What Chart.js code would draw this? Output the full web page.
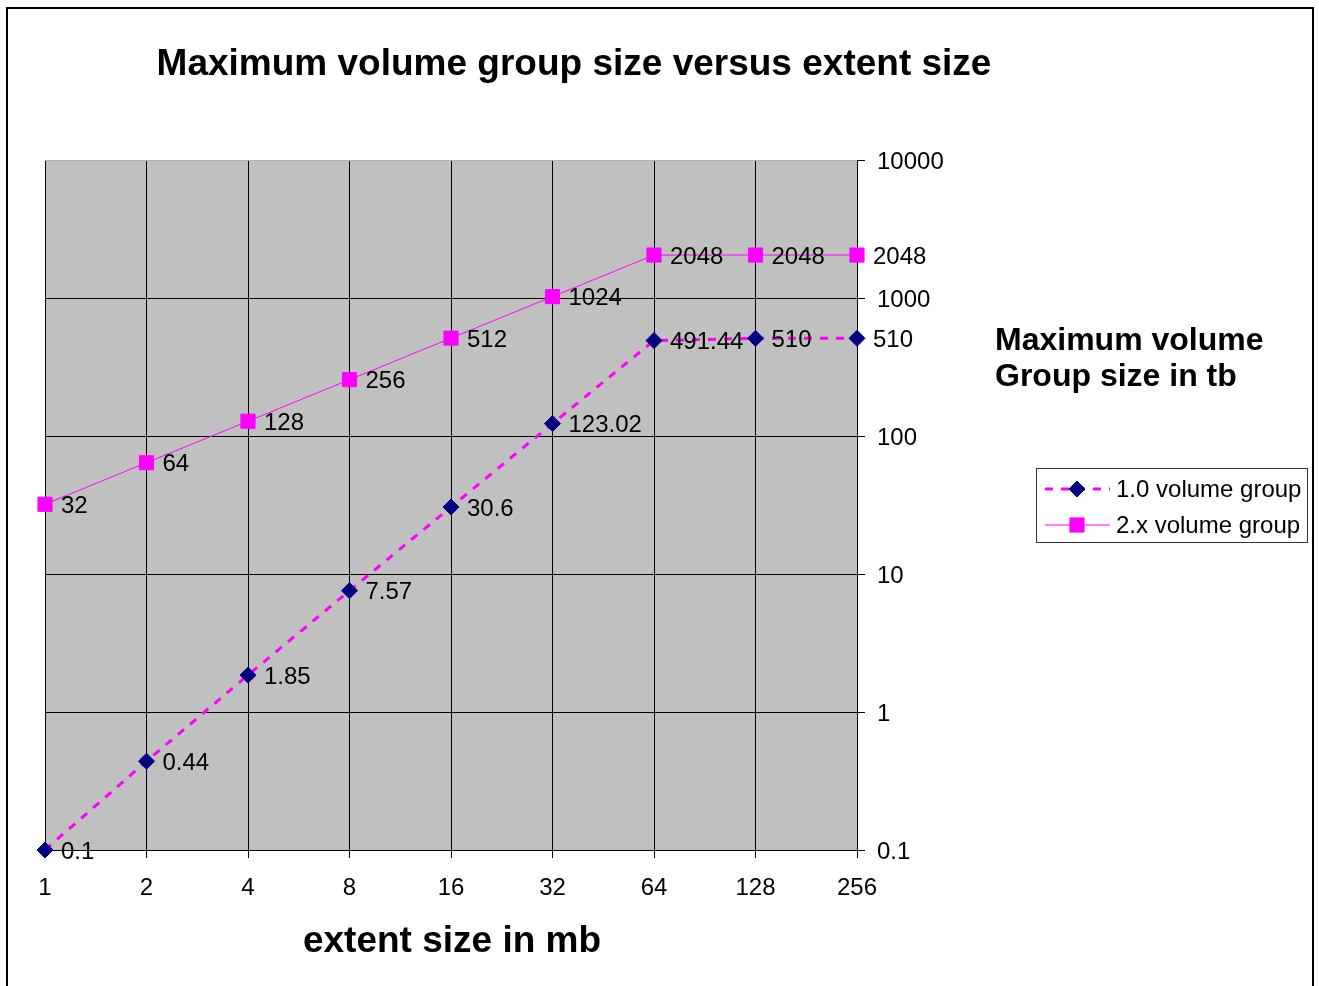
<!DOCTYPE html>
<html>
<head>
<meta charset="utf-8">
<title>Maximum volume group size versus extent size</title>
<script src="https://cdn.jsdelivr.net/npm/chart.js@4/dist/chart.umd.min.js"></script>
<style>
  html, body { margin: 0; padding: 0; background: #fff; }
  #wrap { width: 1319px; height: 986px; }
</style>
</head>
<body>
<div id="wrap"><canvas id="c" width="1319" height="986"></canvas></div>
<script>
// Extent sizes (MB) along the bottom axis
const extentSizes = ['1', '2', '4', '8', '16', '32', '64', '128', '256'];
// Maximum volume group size (TB) for each metadata format
const vg10Sizes = [0.1, 0.44, 1.85, 7.57, 30.6, 123.02, 491.44, 510, 510];
const vg2xSizes = [32, 64, 128, 256, 512, 1024, 2048, 2048, 2048];
// Decade ticks on the logarithmic axis
const sizeTicks = [0.1, 1, 10, 100, 1000, 10000];

const FONT = '"Liberation Sans", Arial, sans-serif';
const MAGENTA = '#FF00FF';
const NAVY = '#000080';

const frameAndText = {
  id: 'frameAndText',
  beforeDraw(chart) {
    const { ctx, chartArea: a } = chart;
    ctx.save();
    ctx.fillStyle = '#ffffff';
    ctx.fillRect(0, 0, chart.width, chart.height);
    ctx.fillStyle = '#C0C0C0';
    ctx.fillRect(a.left, a.top, a.right - a.left, a.bottom - a.top);
    ctx.restore();
  },
  afterDatasetsDraw(chart) {
    const { ctx } = chart;
    ctx.save();
    ctx.font = '24px ' + FONT;
    ctx.fillStyle = '#000';
    ctx.textBaseline = 'middle';
    ctx.textAlign = 'left';
    chart.data.datasets.forEach((ds, i) => {
      const meta = chart.getDatasetMeta(i);
      meta.data.forEach((pt, j) => {
        ctx.fillText(String(ds.data[j]), pt.x + 16, pt.y + 2);
      });
    });
    ctx.restore();
  },
  afterDraw(chart) {
    const { ctx } = chart;
    ctx.save();
    // outer frame
    ctx.strokeStyle = '#000';
    ctx.lineWidth = 2;
    ctx.strokeRect(7, 8, 1306, 1000);

    ctx.fillStyle = '#000';
    ctx.textBaseline = 'middle';
    // title
    ctx.font = 'bold 37px ' + FONT;
    ctx.textAlign = 'center';
    ctx.fillText('Maximum volume group size versus extent size', 574, 65);
    // x axis title
    ctx.fillText('extent size in mb', 452, 942);
    // y axis title
    ctx.font = 'bold 32px ' + FONT;
    ctx.textAlign = 'left';
    ctx.fillText('Maximum volume', 995, 341);
    ctx.fillText('Group size in tb', 995, 377);

    // legend frame
    ctx.strokeStyle = '#333';
    ctx.lineWidth = 1;
    ctx.strokeRect(1036.5, 468.5, 271, 74);
    const rows = [
      { y: 489, ds: chart.data.datasets[0] },
      { y: 525, ds: chart.data.datasets[1] }
    ];
    rows.forEach(r => {
      // line sample
      ctx.save();
      ctx.strokeStyle = r.ds.borderColor;
      ctx.lineWidth = r.ds.borderWidth;
      ctx.setLineDash(r.ds.borderDash || []);
      ctx.beginPath();
      ctx.moveTo(1045, r.y);
      ctx.lineTo(1110, r.y);
      ctx.stroke();
      ctx.restore();
      // marker
      ctx.save();
      ctx.fillStyle = r.ds.pointBackgroundColor;
      ctx.strokeStyle = r.ds.pointBorderColor;
      ctx.lineWidth = 1;
      Chart.helpers.drawPoint(ctx, {
        pointStyle: r.ds.pointStyle,
        radius: r.ds.pointRadius,
        rotation: 0,
        borderWidth: 1
      }, 1077, r.y);
      ctx.restore();
      // label
      ctx.fillStyle = '#000';
      ctx.font = '24px ' + FONT;
      ctx.textAlign = 'left';
      ctx.textBaseline = 'middle';
      ctx.fillText(r.ds.label, 1116, r.y + 1);
    });
    ctx.restore();
  }
};

new Chart(document.getElementById('c'), {
  type: 'line',
  data: {
    labels: extentSizes,
    datasets: [
      {
        label: '1.0 volume group',
        data: vg10Sizes,
        borderColor: MAGENTA,
        borderWidth: 3,
        borderDash: [8, 8],
        pointStyle: 'rectRot',
        pointRadius: 8,
        pointHoverRadius: 8,
        pointBackgroundColor: NAVY,
        pointBorderColor: NAVY,
        pointBorderWidth: 1,
        tension: 0,
        fill: false,
        clip: false
      },
      {
        label: '2.x volume group',
        data: vg2xSizes,
        borderColor: MAGENTA,
        borderWidth: 1,
        pointStyle: 'rect',
        pointRadius: 10,
        pointHoverRadius: 10,
        pointBackgroundColor: MAGENTA,
        pointBorderColor: MAGENTA,
        pointBorderWidth: 1,
        tension: 0,
        fill: false,
        clip: false
      }
    ]
  },
  options: {
    responsive: false,
    animation: false,
    layout: { padding: { left: 45, top: 160, right: 0, bottom: 0 } },
    plugins: {
      legend: { display: false },
      title: { display: false },
      tooltip: { enabled: false }
    },
    scales: {
      x: {
        type: 'category',
        offset: false,
        grid: { color: '#000', lineWidth: 1, tickLength: 8, tickColor: '#000' },
        border: { color: '#000', width: 1 },
        ticks: { color: '#000', font: { family: FONT, size: 24 }, padding: 16, maxRotation: 0, autoSkip: false },
        afterFit(scale) { scale.height = 136; }
      },
      y: {
        type: 'logarithmic',
        position: 'right',
        min: 0.1,
        max: 10000,
        grid: {
          color: ctx => (ctx.tick && ctx.tick.value === 10000) ? '#b0b0b0' : '#000',
          lineWidth: 1,
          tickLength: 8,
          tickColor: '#000'
        },
        border: { color: '#000', width: 1 },
        ticks: {
          color: '#000',
          font: { family: FONT, size: 24 },
          padding: 12,
          labelOffset: 2,
          callback: v => String(v)
        },
        afterBuildTicks(scale) { scale.ticks = sizeTicks.map(v => ({ value: v })); },
        afterFit(scale) { scale.width = 1319 - 857; }
      }
    }
  },
  plugins: [frameAndText]
});
</script>
</body>
</html>
